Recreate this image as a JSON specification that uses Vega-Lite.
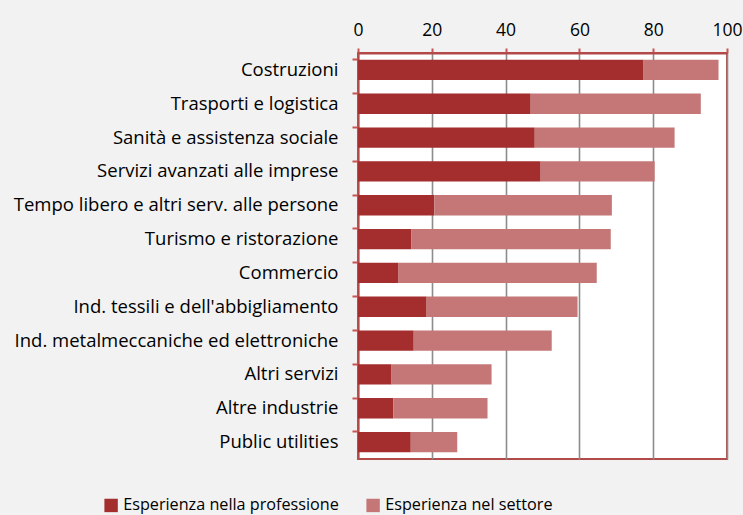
{
  "$schema": "https://vega.github.io/schema/vega-lite/v6.json",
  "width": 369,
  "height": 406,
  "autosize": "none",
  "padding": {"left": 358, "top": 53, "right": 16, "bottom": 56},
  "background": "#f2f2f2",
  "config": {
    "font": "Open Sans",
    "view": {"fill": "white", "stroke": "#b24a4a", "strokeWidth": 2}
  },
  "data": {
    "values": [
      {"settore": "Costruzioni", "serie": "Esperienza nella professione", "ord": 1, "valore": 77.4},
      {"settore": "Costruzioni", "serie": "Esperienza nel settore", "ord": 2, "valore": 20.3},
      {"settore": "Trasporti e logistica", "serie": "Esperienza nella professione", "ord": 1, "valore": 46.8},
      {"settore": "Trasporti e logistica", "serie": "Esperienza nel settore", "ord": 2, "valore": 46.1},
      {"settore": "Sanità e assistenza sociale", "serie": "Esperienza nella professione", "ord": 1, "valore": 47.9},
      {"settore": "Sanità e assistenza sociale", "serie": "Esperienza nel settore", "ord": 2, "valore": 37.9},
      {"settore": "Servizi avanzati alle imprese", "serie": "Esperienza nella professione", "ord": 1, "valore": 49.5},
      {"settore": "Servizi avanzati alle imprese", "serie": "Esperienza nel settore", "ord": 2, "valore": 30.9},
      {"settore": "Tempo libero e altri serv. alle persone", "serie": "Esperienza nella professione", "ord": 1, "valore": 20.7},
      {"settore": "Tempo libero e altri serv. alle persone", "serie": "Esperienza nel settore", "ord": 2, "valore": 48.1},
      {"settore": "Turismo e ristorazione", "serie": "Esperienza nella professione", "ord": 1, "valore": 14.5},
      {"settore": "Turismo e ristorazione", "serie": "Esperienza nel settore", "ord": 2, "valore": 54.0},
      {"settore": "Commercio", "serie": "Esperienza nella professione", "ord": 1, "valore": 11.0},
      {"settore": "Commercio", "serie": "Esperienza nel settore", "ord": 2, "valore": 53.7},
      {"settore": "Ind. tessili e dell'abbigliamento", "serie": "Esperienza nella professione", "ord": 1, "valore": 18.6},
      {"settore": "Ind. tessili e dell'abbigliamento", "serie": "Esperienza nel settore", "ord": 2, "valore": 40.9},
      {"settore": "Ind. metalmeccaniche ed elettroniche", "serie": "Esperienza nella professione", "ord": 1, "valore": 15.1},
      {"settore": "Ind. metalmeccaniche ed elettroniche", "serie": "Esperienza nel settore", "ord": 2, "valore": 37.4},
      {"settore": "Altri servizi", "serie": "Esperienza nella professione", "ord": 1, "valore": 9.1},
      {"settore": "Altri servizi", "serie": "Esperienza nel settore", "ord": 2, "valore": 27.1},
      {"settore": "Altre industrie", "serie": "Esperienza nella professione", "ord": 1, "valore": 9.6},
      {"settore": "Altre industrie", "serie": "Esperienza nel settore", "ord": 2, "valore": 25.5},
      {"settore": "Public utilities", "serie": "Esperienza nella professione", "ord": 1, "valore": 14.3},
      {"settore": "Public utilities", "serie": "Esperienza nel settore", "ord": 2, "valore": 12.6}
    ]
  },
  "mark": {"type": "bar", "cornerRadius": 0},
  "encoding": {
    "y": {
      "field": "settore",
      "type": "nominal",
      "sort": null,
      "scale": {"paddingInner": 0.4, "paddingOuter": 0.2},
      "axis": {
        "title": null,
        "bandPosition": 0,
        "domainColor": "#b24a4a",
        "domainWidth": 2,
        "tickColor": "#c85555",
        "tickSize": 6,
        "tickWidth": 2,
        "labelFontSize": 18.5,
        "labelColor": "#000000",
        "labelPadding": 14,
        "labelLimit": 400,
        "labelAlign": "right"
      }
    },
    "x": {
      "field": "valore",
      "type": "quantitative",
      "stack": "zero",
      "scale": {"domain": [0, 100], "nice": false},
      "axis": {
        "orient": "top",
        "title": null,
        "values": [0, 20, 40, 60, 80, 100],
        "domainColor": "#b24a4a",
        "domainWidth": 2,
        "tickColor": "#c85555",
        "tickSize": 5,
        "tickWidth": 2,
        "grid": true,
        "gridColor": "#8c8c8c",
        "gridWidth": 1.6,
        "labelFontSize": 17.5,
        "labelColor": "#000000",
        "labelPadding": 9,
        "labelFlush": false
      }
    },
    "color": {
      "field": "serie",
      "type": "nominal",
      "sort": ["Esperienza nella professione", "Esperienza nel settore"],
      "scale": {"domain": ["Esperienza nella professione", "Esperienza nel settore"], "range": ["#a42d2d", "#c47776"]},
      "legend": {
        "title": null,
        "orient": "none",
        "direction": "horizontal",
        "legendX": -255,
        "legendY": 444,
        "symbolType": "square",
        "symbolSize": 180,
        "symbolStrokeWidth": 0,
        "labelFontSize": 16.2,
        "labelColor": "#000000",
        "columnPadding": 26,
        "labelLimit": 400
      }
    },
    "order": {"field": "ord", "type": "quantitative"}
  }
}
